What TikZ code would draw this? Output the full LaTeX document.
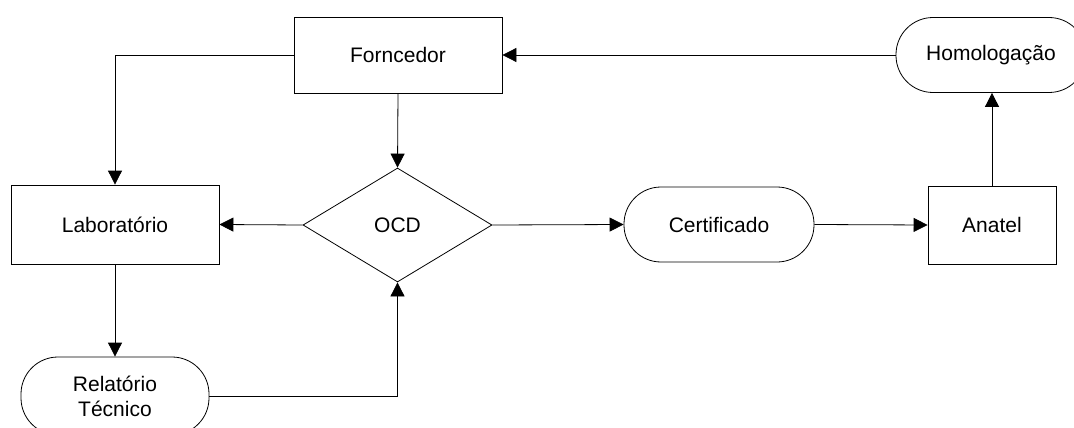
\documentclass[tikz,border=0pt]{standalone}
\usepackage{fontspec}
\setmainfont{Liberation Sans}
\usetikzlibrary{arrows.meta,shapes.geometric}
\tikzset{
  every node/.style={font=\fontsize{21}{25}\selectfont, align=center, inner sep=0pt},
  box/.style={draw, rectangle, line width=0.8pt},
  term/.style={draw, rectangle, rounded corners=37pt, line width=0.8pt},
  dec/.style={draw, diamond, line width=0.8pt},
  conn/.style={line width=0.8pt, -{Triangle[length=14pt,width=14pt]}},
  plain/.style={line width=0.8pt}
}
\begin{document}
\begin{tikzpicture}[x=1pt,y=-1pt]
\useasboundingbox (0,0) rectangle (1074,428);
\clip (0,0) rectangle (1074,428);
\node[box, minimum width=208pt, minimum height=76pt] (forn) at (398,55) {Forncedor};
\node[term, minimum width=190pt, minimum height=75pt] (homo) at (991,55) {Homologação};
\node[box, minimum width=208pt, minimum height=79pt] (lab) at (115,224.5) {Laboratório};
\node[dec, minimum width=189pt, minimum height=114pt] (ocd) at (397.5,225) {OCD};
\node[term, minimum width=190pt, minimum height=75pt] (cert) at (719,224.5) {Certificado};
\node[box, minimum width=128pt, minimum height=78pt] (anat) at (992,225) {Anatel};
\node[term, minimum width=188pt, minimum height=78pt] (rel) at (115,396) {Relatório\\Técnico};
\draw[conn] (homo.west) -- (forn.east);
\draw[conn] (forn.west) -| (lab.north);
\draw[conn] (forn.south) -- (ocd.north);
\draw[conn] (ocd.west) -- (lab.east);
\draw[conn] (ocd.east) -- (cert.west);
\draw[conn] (cert.east) -- (anat.west);
\draw[conn] (anat.north) -- (anat.north |- homo.south);
\draw[conn] (lab.south) -- (rel.north);
\draw[conn] (rel.east) -| (ocd.south);
\end{tikzpicture}
\end{document}
